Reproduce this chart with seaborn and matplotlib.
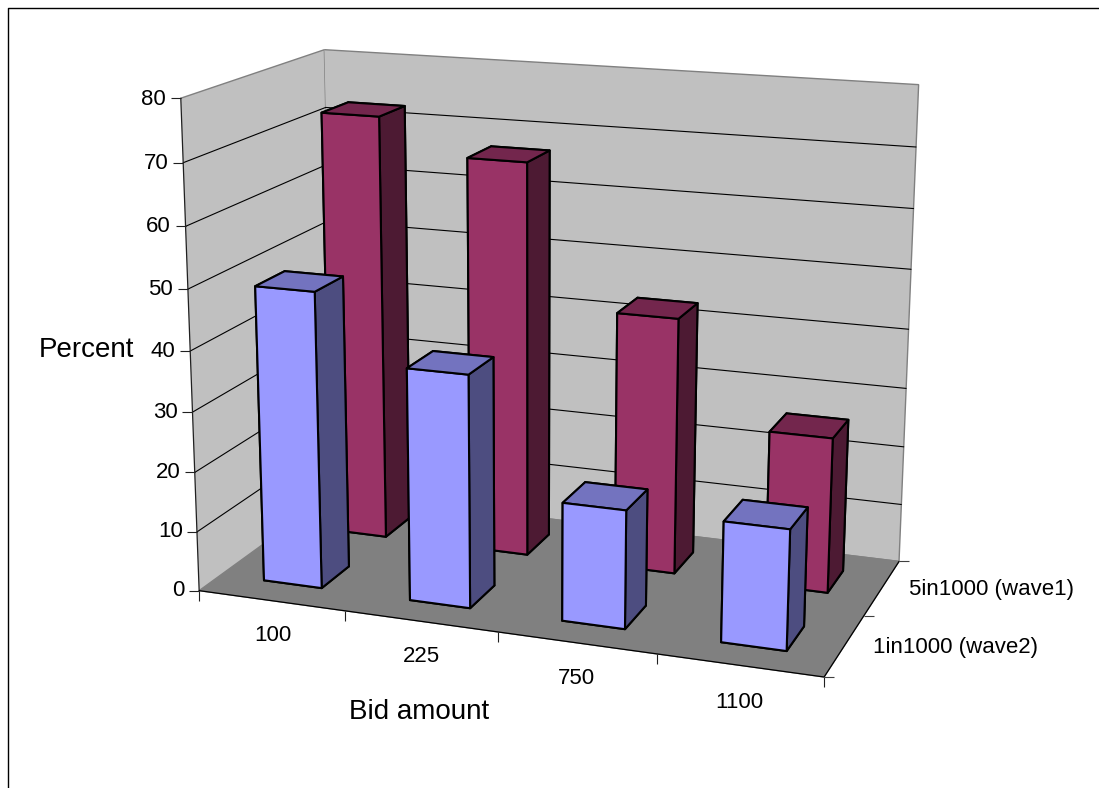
"""
Percent of bids per bid amount for two survey waves, as a boxed 3D column chart.
"""
import matplotlib
matplotlib.use("Agg")
import matplotlib.pyplot as plt
import seaborn as sns
from matplotlib.lines import Line2D
from mpl_toolkits.mplot3d import proj3d

sns.set_style("white")
plt.rcParams["font.family"] = ["Liberation Sans", "DejaVu Sans"]
plt.rcParams["text.color"] = "black"

BIDS = ["100", "225", "750", "1100"]
WAVES = ["1in1000 (wave2)", "5in1000 (wave1)"]
WAVE2 = [49.3, 38.4, 19.4, 19.5]
WAVE1 = [72.6, 66.8, 43.2, 26]
PERCENT_TICKS = [0, 10, 20, 30, 40, 50, 60, 70, 80]

# faces are -z, +z, -y, +y, -x, +x
FRONT_COLORS = ["#9999FF", "#7373BF", "#9999FF", "#9999FF", "#4D4D80", "#4D4D80"]
BACK_COLORS = ["#993366", "#73264D", "#993366", "#993366", "#4D1A33", "#4D1A33"]
BAR_W = 0.4
BAR_D = 0.41
BAR_X0 = 0.3
BAR_Y0 = 0.3

fig = plt.figure(figsize=(10.99, 7.88), dpi=100)
ax = fig.add_axes([-4.541 / 1099, 43.398 / 788, 1, 1], projection="3d", computed_zorder=False)
ax.patch.set_alpha(0)
ax.set_proj_type("persp", focal_length=0.588)
ax.view_init(elev=15.293, azim=-70.34, roll=-0.151)
ax.set_box_aspect((1, 0.505, 0.777), zoom=1.085)
ax.set_xlim(0, 4, view_margin=0)
ax.set_ylim(0, 2, view_margin=0)
ax.set_zlim(0, 80, view_margin=0)
ax.set_xticks([])
ax.set_yticks([])
ax.set_zticks([])


def label(x, y, z, s, **kw):
    # plain 2d text placed where the 3d point lands
    px, py, _ = proj3d.proj_transform(x, y, z, ax.get_proj())
    ax.text2D(px, py, s, transform=ax.transData, fontsize=16, va="center", **kw)


for axis, col in ((ax.xaxis, "#C0C0C0"), (ax.yaxis, "#C0C0C0"), (ax.zaxis, "#808080")):
    axis.set_pane_color(col)
    axis.pane.set_edgecolor("#808080")
    axis.line.set_color((0, 0, 0, 0))
    axis.label.set_visible(False)
    axis.offsetText.set_visible(False)

# value grid on the two walls, value axis and floor edges
for v in PERCENT_TICKS[1:-1]:
    ax.plot([0, 0, 4], [0, 2, 2], [v, v, v], color="black", lw=0.8, zorder=1)
ax.plot([0, 0], [0, 0], [0, 80], color="#202020", lw=0.9, zorder=1)
ax.plot([0, 4, 4], [0, 0, 2], [0, 0, 0], color="black", lw=0.9, zorder=1)

for v in PERCENT_TICKS:
    ax.plot([0], [0], [v], marker=0, ms=7.5, mew=0.8, color="#202020", zorder=1)
    label(-0.1, 0, v - 0.3, str(v), ha="right")
for i in range(5):
    ax.plot([i], [0], [0], marker=3, ms=7.5, mew=0.8, color="#202020", zorder=1)
for j in range(3):
    ax.plot([4], [j], [0], marker=1, ms=7.5, mew=0.8, color="#404040", zorder=1)

for j, (vals, cols) in enumerate(((WAVE1, BACK_COLORS), (WAVE2, FRONT_COLORS))):
    y = 1 - j
    for i, v in enumerate(vals):
        ax.bar3d(i + BAR_X0, y + BAR_Y0, 0, BAR_W, BAR_D, v, color=cols, edgecolor="black",
                 linewidth=1.5, shade=False, zorder=3 + j * 10 + i)

for i, b in enumerate(BIDS):
    label(i + 0.5, 0, -5.9, b, ha="center")
for j, w in enumerate(WAVES):
    label(4.17, j + 0.5, 0.2, w, ha="left")

fig.text(419 / 1099, 1 - 712 / 788, "Bid amount", ha="center", va="center", fontsize=20)
fig.text(39 / 1099, 1 - 350 / 788, "Percent", ha="left", va="center", fontsize=20)

# the chart frame only shows on its top and left sides
frame_x = 8 / 1099
frame_y = 1 - 7.5 / 788
fig.add_artist(Line2D([frame_x, frame_x, 1], [0, frame_y, frame_y], transform=fig.transFigure,
                      color="black", lw=1.0))

fig.savefig("out.png", dpi=100)
